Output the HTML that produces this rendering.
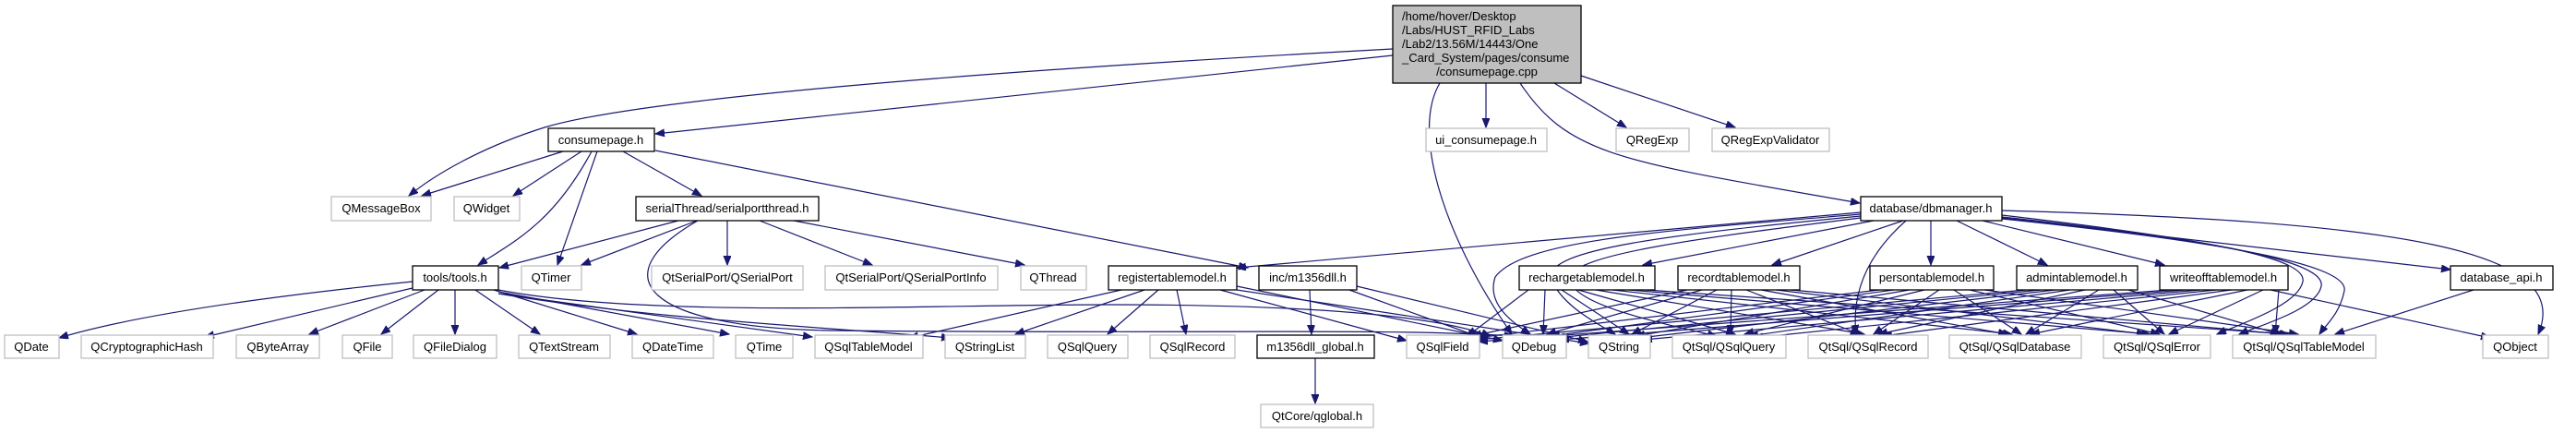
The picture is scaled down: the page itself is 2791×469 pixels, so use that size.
<!DOCTYPE html>
<html><head><meta charset="utf-8"><style>
html,body{margin:0;padding:0;background:#fff;}
svg{display:block;}
text{font-family:"Liberation Sans",Arial,sans-serif;font-size:13px;fill:#000;}
.g{fill:#fff;stroke:#bfbfbf;stroke-width:1.3;}
.b{fill:#fff;stroke:#000;stroke-width:1.3;}
.e{fill:none;stroke:#191970;stroke-width:1.2;marker-end:url(#a);}
</style></head><body>
<svg width="2791" height="469" viewBox="0 0 2791 469" xmlns="http://www.w3.org/2000/svg">
<defs><marker id="a" markerUnits="userSpaceOnUse" markerWidth="12" markerHeight="10" refX="10" refY="4" orient="auto"><path d="M0,0 L10,4 L0,8 z" fill="#191970" stroke="#191970"/></marker></defs>
<g>
<!-- cpp edges -->
<path class="e" d="M1509,53 C1100,75 700,105 590,138 C520,160 470,190 443,212"/>
<path class="e" d="M1509,60 L710,145"/>
<path class="e" d="M1560,90 C1530,140 1560,250 1638,362"/>
<path class="e" d="M1647,90 C1700,170 1760,175 2015,220"/>
<path class="e" d="M1610,90 L1610,138"/>
<path class="e" d="M1684,90 L1762,138"/>
<path class="e" d="M1713,82 L1880,138"/>
<!-- consumepage -->
<path class="e" d="M610,164 L457,212"/>
<path class="e" d="M630,164 L556,212"/>
<path class="e" d="M641,164 C600,240 560,260 518,287"/>
<path class="e" d="M647,164 L604,287"/>
<path class="e" d="M675,164 L760,212"/>
<path class="e" d="M710,163 L1352,290"/>
<!-- serial -->
<path class="e" d="M735,239 L541,290"/>
<path class="e" d="M755,239 L630,287"/>
<path class="e" d="M788,239 L788,287"/>
<path class="e" d="M823,239 L945,287"/>
<path class="e" d="M860,239 L1110,287"/>
<path class="e" d="M756,239 C650,300 700,355 900,358 C1300,362 1500,355 1640,364"/>
<!-- tools -->
<path class="e" d="M447,305 C300,320 150,340 64,366"/>
<path class="e" d="M447,312 L222,365"/>
<path class="e" d="M460,314 L335,362"/>
<path class="e" d="M475,314 L413,362"/>
<path class="e" d="M493,314 L493,362"/>
<path class="e" d="M515,314 L585,362"/>
<path class="e" d="M535,314 L690,362"/>
<path class="e" d="M540,316 L790,362"/>
<path class="e" d="M540,318 L880,365"/>
<path class="e" d="M540,318 C700,345 900,355 1030,366"/>
<path class="e" d="M540,314 C700,345 1000,330 1200,330 C1400,330 1550,340 1615,364"/>
<!-- registertablemodel -->
<path class="e" d="M1215,314 L985,366"/>
<path class="e" d="M1240,314 L1100,362"/>
<path class="e" d="M1255,314 L1200,362"/>
<path class="e" d="M1275,314 L1285,362"/>
<path class="e" d="M1322,314 L1524,369"/>
<path class="e" d="M1340,310 L1628,369"/>
<path class="e" d="M1340,314 L1722,372"/>
<!-- m1356 -->
<path class="e" d="M1419,314 L1421,362"/>
<path class="e" d="M1462,314 L1600,364"/>
<path class="e" d="M1470,310 L1720,370"/>
<path class="e" d="M1425,388 L1425,437"/>
<!-- dbmanager -->
<path class="e" d="M2016,230 L1340,290"/>
<path class="e" d="M2030,239 L1780,287"/>
<path class="e" d="M2062,239 L1920,287"/>
<path class="e" d="M2092,239 L2092,287"/>
<path class="e" d="M2120,239 L2218,287"/>
<path class="e" d="M2148,239 L2345,287"/>
<path class="e" d="M2169,236 L2655,292"/>
<path class="e" d="M2169,228 C2600,240 2790,270 2750,362"/>
<path class="e" d="M2016,232 C1800,250 1650,260 1620,300 C1610,330 1640,350 1658,362"/>
<path class="e" d="M2016,234 C1800,255 1680,270 1680,300 C1690,330 1730,350 1750,362"/>
<path class="e" d="M2016,236 C1840,258 1710,275 1700,300 C1700,330 1800,350 1860,364"/>
<path class="e" d="M2065,239 C2030,270 2005,310 2011,362"/>
<path class="e" d="M2169,233 C2400,260 2500,280 2495,305 C2490,330 2430,350 2402,362"/>
<path class="e" d="M2169,235 C2420,262 2520,285 2515,310 C2510,335 2450,352 2426,362"/>
<path class="e" d="M2169,237 C2440,265 2545,290 2540,315 C2535,340 2520,352 2513,362"/>
<!-- table models -->
<path class="e" d="M1656,314 L1590,364"/><path class="e" d="M1674,314 L1672,362"/><path class="e" d="M1692,314 L1765,362"/><path class="e" d="M1710,314 L1880,362"/><path class="e" d="M1729,314 L2020,362"/><path class="e" d="M1747,314 L2180,362"/><path class="e" d="M1765,314 L2330,362"/><path class="e" d="M1783,314 L2480,362"/>
<path class="e" d="M1828,314 L1595,364"/><path class="e" d="M1844,314 L1676,362"/><path class="e" d="M1860,314 L1768,362"/><path class="e" d="M1876,314 L1875,362"/><path class="e" d="M1892,314 L2015,362"/><path class="e" d="M1908,314 L2175,362"/><path class="e" d="M1924,314 L2325,362"/><path class="e" d="M1940,314 L2475,362"/>
<path class="e" d="M2036,314 L1598,366"/><path class="e" d="M2052,314 L1680,364"/><path class="e" d="M2069,314 L1772,364"/><path class="e" d="M2085,314 L1890,362"/><path class="e" d="M2101,314 L2030,362"/><path class="e" d="M2117,314 L2190,362"/><path class="e" d="M2134,314 L2340,362"/><path class="e" d="M2150,314 L2490,362"/>
<path class="e" d="M2195,314 L1600,368"/><path class="e" d="M2211,314 L1685,366"/><path class="e" d="M2227,314 L1776,366"/><path class="e" d="M2243,314 L1895,364"/><path class="e" d="M2259,314 L2035,362"/><path class="e" d="M2274,314 L2195,362"/><path class="e" d="M2290,314 L2345,362"/><path class="e" d="M2306,314 L2470,362"/>
<path class="e" d="M2350,314 L1602,370"/><path class="e" d="M2367,314 L1690,368"/><path class="e" d="M2384,314 L1780,368"/><path class="e" d="M2401,314 L1900,366"/><path class="e" d="M2418,314 L2040,364"/><path class="e" d="M2435,314 L2200,362"/><path class="e" d="M2452,314 L2350,362"/><path class="e" d="M2469,314 L2465,362"/>
<path class="e" d="M2460,314 L2698,366"/>
<path class="e" d="M2680,314 L2530,362"/>
</g>
<!-- nodes -->
<rect x="1509" y="6" width="204" height="84" fill="#bfbfbf" stroke="#000" stroke-width="1.3"/>
<text x="1519" y="22">/home/hover/Desktop</text>
<text x="1519" y="37">/Labs/HUST_RFID_Labs</text>
<text x="1519" y="52">/Lab2/13.56M/14443/One</text>
<text x="1519" y="67">_Card_System/pages/consume</text>
<text x="1611" y="82" text-anchor="middle">/consumepage.cpp</text>
<g text-anchor="middle">
<rect class="b" x="594" y="139" width="115" height="25"/><text x="651" y="156">consumepage.h</text>
<rect class="g" x="1545" y="139" width="131" height="25"/><text x="1610" y="156">ui_consumepage.h</text>
<rect class="g" x="1751" y="139" width="79" height="25"/><text x="1790" y="156">QRegExp</text>
<rect class="g" x="1855" y="139" width="127" height="25"/><text x="1918" y="156">QRegExpValidator</text>
<rect class="g" x="359" y="213" width="108" height="26"/><text x="413" y="230">QMessageBox</text>
<rect class="g" x="492" y="213" width="71" height="26"/><text x="527" y="230">QWidget</text>
<rect class="b" x="689" y="213" width="198" height="26"/><text x="788" y="230">serialThread/serialportthread.h</text>
<rect class="b" x="2016" y="213" width="153" height="26"/><text x="2092" y="230">database/dbmanager.h</text>
<rect class="b" x="447" y="288" width="93" height="26"/><text x="493" y="305">tools/tools.h</text>
<rect class="g" x="565" y="288" width="65" height="26"/><text x="597" y="305">QTimer</text>
<rect class="g" x="706" y="288" width="164" height="26"/><text x="788" y="305">QtSerialPort/QSerialPort</text>
<rect class="g" x="894" y="288" width="187" height="26"/><text x="987" y="305">QtSerialPort/QSerialPortInfo</text>
<rect class="g" x="1106" y="288" width="71" height="26"/><text x="1141" y="305">QThread</text>
<rect class="b" x="1201" y="288" width="139" height="26"/><text x="1270" y="305">registertablemodel.h</text>
<rect class="b" x="1364" y="288" width="106" height="26"/><text x="1417" y="305">inc/m1356dll.h</text>
<rect class="b" x="1646" y="288" width="147" height="26"/><text x="1719" y="305">rechargetablemodel.h</text>
<rect class="b" x="1818" y="288" width="132" height="26"/><text x="1884" y="305">recordtablemodel.h</text>
<rect class="b" x="2026" y="288" width="134" height="26"/><text x="2093" y="305">persontablemodel.h</text>
<rect class="b" x="2185" y="288" width="131" height="26"/><text x="2250" y="305">admintablemodel.h</text>
<rect class="b" x="2340" y="288" width="139" height="26"/><text x="2409" y="305">writeofftablemodel.h</text>
<rect class="b" x="2655" y="288" width="111" height="26"/><text x="2710" y="305">database_api.h</text>
<rect class="g" x="5" y="363" width="59" height="25"/><text x="34" y="380">QDate</text>
<rect class="g" x="88" y="363" width="143" height="25"/><text x="159" y="380">QCryptographicHash</text>
<rect class="g" x="256" y="363" width="90" height="25"/><text x="301" y="380">QByteArray</text>
<rect class="g" x="371" y="363" width="54" height="25"/><text x="398" y="380">QFile</text>
<rect class="g" x="448" y="363" width="90" height="25"/><text x="493" y="380">QFileDialog</text>
<rect class="g" x="562" y="363" width="99" height="25"/><text x="611" y="380">QTextStream</text>
<rect class="g" x="685" y="363" width="88" height="25"/><text x="729" y="380">QDateTime</text>
<rect class="g" x="797" y="363" width="62" height="25"/><text x="828" y="380">QTime</text>
<rect class="g" x="883" y="363" width="117" height="25"/><text x="941" y="380">QSqlTableModel</text>
<rect class="g" x="1024" y="363" width="87" height="25"/><text x="1067" y="380">QStringList</text>
<rect class="g" x="1135" y="363" width="87" height="25"/><text x="1178" y="380">QSqlQuery</text>
<rect class="g" x="1246" y="363" width="92" height="25"/><text x="1292" y="380">QSqlRecord</text>
<rect class="b" x="1362" y="363" width="127" height="25"/><text x="1425" y="380">m1356dll_global.h</text>
<rect class="g" x="1524" y="363" width="79" height="25"/><text x="1563" y="380">QSqlField</text>
<rect class="g" x="1628" y="363" width="69" height="25"/><text x="1662" y="380">QDebug</text>
<rect class="g" x="1721" y="363" width="67" height="25"/><text x="1754" y="380">QString</text>
<rect class="g" x="1812" y="363" width="123" height="25"/><text x="1873" y="380">QtSql/QSqlQuery</text>
<rect class="g" x="1959" y="363" width="130" height="25"/><text x="2024" y="380">QtSql/QSqlRecord</text>
<rect class="g" x="2112" y="363" width="143" height="25"/><text x="2183" y="380">QtSql/QSqlDatabase</text>
<rect class="g" x="2279" y="363" width="116" height="25"/><text x="2337" y="380">QtSql/QSqlError</text>
<rect class="g" x="2419" y="363" width="155" height="25"/><text x="2496" y="380">QtSql/QSqlTableModel</text>
<rect class="g" x="2690" y="363" width="71" height="25"/><text x="2725" y="380">QObject</text>
<rect class="g" x="1366" y="438" width="122" height="25"/><text x="1427" y="455">QtCore/qglobal.h</text>
</g>
</svg>
</body></html>
